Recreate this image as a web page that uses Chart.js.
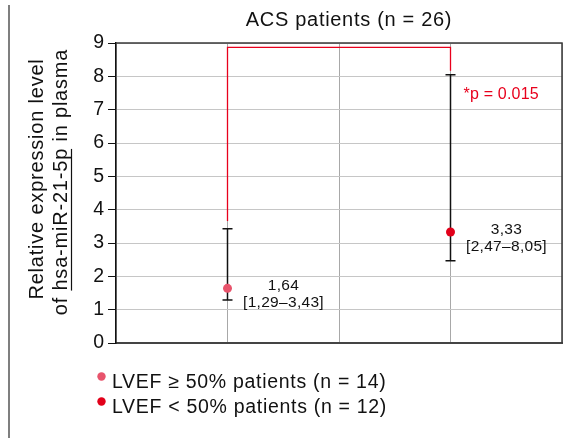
<!DOCTYPE html>
<html>
<head>
<meta charset="utf-8">
<script src="https://cdn.jsdelivr.net/npm/chart.js@4/dist/chart.umd.min.js"></script>
<style>
  html, body { margin: 0; padding: 0; background: #fff; }
  #wrap { width: 588px; height: 438px; position: relative; }
  canvas { display: block; }
</style>
</head>
<body>
<div id="wrap"><canvas id="c" width="588" height="438"></canvas></div>
<script>
// ---- data ----
const groupLabels = ['LVEF ≥ 50% patients (n = 14)', 'LVEF < 50% patients (n = 12)'];
const groupX = [1, 3];
const medians = [1.64, 3.33];
const lowerCI = [1.29, 2.47];
const upperCI = [3.43, 8.05];
const medianText = ['1,64', '3,33'];
const rangeText = ['[1,29–3,43]', '[2,47–8,05]'];
const groupColors = ['#e8546c', '#e2001a'];
const yTicks = [0, 1, 2, 3, 4, 5, 6, 7, 8, 9];
const bracketTop = 8.87;
const bracketLeftEnd = 3.66;
const bracketRightEnd = 8.17;
const pLabel = '*p = 0.015';
const pLabelY = 7.5;
const titleText = 'ACS patients (n = 26)';
const yTitle1 = 'Relative expression level';
const yTitle2Pre = 'of ';
const yTitle2Under = 'hsa-miR-21-5p';
const yTitle2Post = ' in plasma';

const FONT = "'Liberation Sans', Arial, Helvetica, sans-serif";

const datasets = groupLabels.map((lab, i) => ({
  label: lab,
  data: [{ x: groupX[i], y: medians[i] }],
  backgroundColor: groupColors[i],
  borderColor: groupColors[i],
  pointRadius: 4.5,
  pointBorderWidth: 0,
  showLine: false
}));

function setSpacing(ctx, px) {
  if ('letterSpacing' in ctx) ctx.letterSpacing = px + 'px';
}

const decor = {
  id: 'decor',
  beforeDatasetsDraw(chart) {
    const ctx = chart.ctx, xs = chart.scales.x, ys = chart.scales.y;
    ctx.save();
    ctx.strokeStyle = '#111';
    ctx.lineWidth = 1.5;
    for (let i = 0; i < groupX.length; i++) {
      const x = xs.getPixelForValue(groupX[i]);
      const yl = ys.getPixelForValue(lowerCI[i]);
      const yh = ys.getPixelForValue(upperCI[i]);
      ctx.beginPath();
      ctx.moveTo(x, yl); ctx.lineTo(x, yh);
      ctx.moveTo(x - 5, yl); ctx.lineTo(x + 5, yl);
      ctx.moveTo(x - 5, yh); ctx.lineTo(x + 5, yh);
      ctx.stroke();
    }
    // significance bracket
    const x1 = xs.getPixelForValue(groupX[0]);
    const x2 = xs.getPixelForValue(groupX[1]);
    ctx.strokeStyle = '#e8001c';
    ctx.lineWidth = 1.3;
    ctx.beginPath();
    ctx.moveTo(x1, ys.getPixelForValue(bracketLeftEnd));
    ctx.lineTo(x1, ys.getPixelForValue(bracketTop));
    ctx.lineTo(x2, ys.getPixelForValue(bracketTop));
    ctx.lineTo(x2, ys.getPixelForValue(bracketRightEnd));
    ctx.stroke();
    ctx.restore();
  },
  afterDraw(chart) {
    const ctx = chart.ctx, xs = chart.scales.x, ys = chart.scales.y, a = chart.chartArea;
    ctx.save();
    // top & right frame
    ctx.strokeStyle = '#3a3a3a';
    ctx.lineWidth = 1.5;
    ctx.beginPath();
    ctx.moveTo(a.left, a.top); ctx.lineTo(a.right, a.top); ctx.lineTo(a.right, a.bottom);
    ctx.stroke();

    // annotations
    ctx.fillStyle = '#111';
    ctx.font = '15.5px ' + FONT;
    setSpacing(ctx, 0.3);
    ctx.textAlign = 'center';
    ctx.textBaseline = 'alphabetic';
    for (let i = 0; i < groupX.length; i++) {
      const x = xs.getPixelForValue(groupX[i]) + 56;
      const y = ys.getPixelForValue(medians[i]);
      ctx.fillText(medianText[i], x, y + 2);
      ctx.fillText(rangeText[i], x, y + 19);
    }
    // p label
    ctx.fillStyle = '#e8001c';
    ctx.font = '16px ' + FONT;
    setSpacing(ctx, 0.2);
    ctx.textAlign = 'left';
    ctx.fillText(pLabel, xs.getPixelForValue(groupX[1]) + 13, ys.getPixelForValue(pLabelY) + 5.5);

    // title
    ctx.fillStyle = '#111';
    ctx.font = '20px ' + FONT;
    setSpacing(ctx, 0.7);
    ctx.textAlign = 'center';
    ctx.fillText(titleText, 349, 26);

    // y title
    ctx.font = '20px ' + FONT;
    setSpacing(ctx, 0.8);
    ctx.save();
    ctx.translate(43, 179);
    ctx.rotate(-Math.PI / 2);
    ctx.textAlign = 'center';
    ctx.fillText(yTitle1, 0, 0);
    ctx.restore();
    ctx.save();
    ctx.translate(67, 182);
    ctx.rotate(-Math.PI / 2);
    const full = yTitle2Pre + yTitle2Under + yTitle2Post;
    const wFull = ctx.measureText(full).width;
    const wPre = ctx.measureText(yTitle2Pre).width;
    const wU = ctx.measureText(yTitle2Under).width;
    ctx.textAlign = 'left';
    ctx.fillText(full, -wFull / 2, 0);
    ctx.strokeStyle = '#111';
    ctx.lineWidth = 1.2;
    ctx.beginPath();
    ctx.moveTo(-wFull / 2 + wPre, 4.5);
    ctx.lineTo(-wFull / 2 + wPre + wU - 1, 4.5);
    ctx.stroke();
    ctx.restore();

    // legend
    ctx.font = '19.5px ' + FONT;
    setSpacing(ctx, 0.7);
    ctx.textAlign = 'left';
    const rows = [388, 413];
    for (let i = 0; i < groupLabels.length; i++) {
      ctx.fillStyle = groupColors[i];
      ctx.beginPath();
      ctx.arc(101.5, rows[i] - 11.5, 4.2, 0, Math.PI * 2);
      ctx.fill();
      ctx.fillStyle = '#111';
      ctx.fillText(groupLabels[i], 112, rows[i]);
    }
    setSpacing(ctx, 0);

    // page side rule
    ctx.strokeStyle = '#555';
    ctx.lineWidth = 1.5;
    ctx.beginPath();
    ctx.moveTo(9, 5); ctx.lineTo(9, 438);
    ctx.stroke();
    ctx.restore();
  }
};

new Chart(document.getElementById('c'), {
  type: 'scatter',
  data: { datasets },
  options: {
    responsive: false,
    animation: false,
    layout: { padding: { top: 43, right: 26, bottom: 95, left: 0 } },
    plugins: { legend: { display: false }, title: { display: false }, tooltip: { enabled: false } },
    scales: {
      x: {
        type: 'linear', min: 0, max: 4,
        ticks: { display: false, stepSize: 1 },
        grid: { color: '#a8a8a8', lineWidth: 1, drawTicks: false },
        border: { color: '#444', width: 2 },
        afterFit: s => { s.height = 0; }
      },
      y: {
        type: 'linear', min: 0, max: 9,
        afterBuildTicks: s => { s.ticks = yTicks.map(v => ({ value: v })); },
        ticks: { color: '#111', font: { family: FONT, size: 19.5 }, padding: 4 },
        grid: { color: '#c6c6c6', lineWidth: 1, tickColor: '#111', tickLength: 8 },
        border: { color: '#111', width: 1.5 },
        afterFit: s => { s.width = 116; }
      }
    }
  },
  plugins: [decor]
});
</script>
</body>
</html>
